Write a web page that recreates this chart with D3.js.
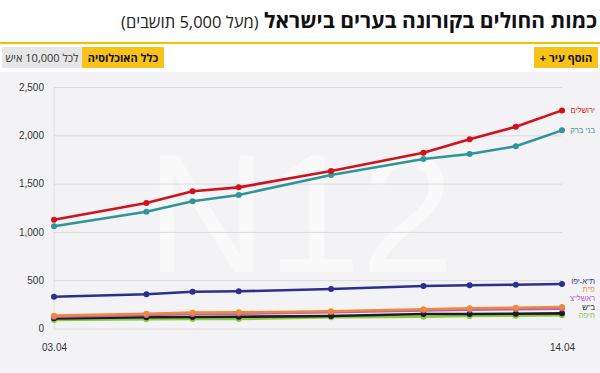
<!DOCTYPE html>
<html lang="he">
<head>
<meta charset="UTF-8">
<title>כמות החולים בקורונה בערים בישראל</title>
<script src="https://d3js.org/d3.v7.min.js"></script>
<style>
body {
  margin: 0;
  width: 600px;
  height: 373px;
  overflow: hidden;
  background: #fff;
  font-family: 'Open Sans', 'Liberation Sans', 'DejaVu Sans', sans-serif;
  position: relative;
}
#title {
  position: absolute;
  right: 3px;
  top: 6px;
  direction: rtl;
  white-space: nowrap;
  font-size: 21px;
  font-weight: bold;
  color: #111;
}
#title span {
  font-weight: normal;
  font-size: 16.5px;
  color: #222;
}
#rule {
  position: absolute;
  left: 0; top: 42px;
  width: 600px; height: 2px;
  background: #f2c200;
}
.btn {
  position: absolute;
  top: 47px;
  height: 21px;
  line-height: 21px;
  font-size: 11px;
  direction: rtl;
  text-align: center;
  white-space: nowrap;
}
#add { right: 2px; width: 64px; background: #f7c31a; font-weight: bold; color: #111; }
#all { left: 82px; width: 82px; background: #f7c31a; font-weight: bold; color: #111; }
#per { left: 2px; width: 80px; background: #e6e6e6; color: #333; }
svg { position: absolute; left: 0; top: 0; }
.tick text { font-size: 10px; fill: #333; }
.lbl { font-size: 7.6px; direction: rtl; font-family: 'Liberation Sans', 'DejaVu Sans', sans-serif; }
</style>
</head>
<body>
<div id="title">כמות החולים בקורונה בערים בישראל <span>(מעל 5,000 תושבים)</span></div>
<div id="rule"></div>
<svg width="600" height="373"></svg>
<div class="btn" id="add">הוסף עיר +</div>
<div class="btn" id="per">לכל 10,000 איש</div>
<div class="btn" id="all">כלל האוכלוסיה</div>
<script>
// dates of the points (April 2020)
var dates = ["03.04", "05.04", "06.04", "07.04", "09.04", "11.04", "12.04", "13.04", "14.04"];
var xLabels = ["03.04", "14.04"];
var yTicks = [0, 500, 1000, 1500, 2000, 2500];

var cities = ["ירושלים", "בני ברק", "ת\"א-יפו", "פ\"ת", "ראשל\"צ", "ב\"ש", "חיפה"];
var colors = ["#d3111c", "#2f9596", "#2b3090", "#f0883a", "#b35ec4", "#1d1d1d", "#8dc641"];

var jerusalem = [1126, 1299, 1420, 1461, 1630, 1820, 1958, 2089, 2258];
var bneiBrak  = [1058, 1209, 1317, 1382, 1589, 1754, 1806, 1886, 2051];
var telAviv   = [329, 354, 381, 385, 409, 440, 447, 453, 461];
var petahTikva = [133, 153, 164, 167, 178, 199, 209, 215, 222];
var rishon    = [122, 140, 150, 154, 170, 188, 195, 201, 206];
var beerSheva = [105, 116, 119, 122, 129, 150, 150, 153, 157];
var haifa     = [88, 95, 98, 98, 116, 122, 129, 133, 137];

var seriesValues = [jerusalem, bneiBrak, telAviv, petahTikva, rishon, beerSheva, haifa];

var parseDate = d3.timeParse("%d.%m.%Y");
var svg = d3.select("svg");

// gray chart panel
svg.append("rect")
  .attr("x", 0).attr("y", 72)
  .attr("width", 600).attr("height", 301)
  .attr("fill", "#f3f3f5");

var x = d3.scaleTime()
  .domain([parseDate("03.04.2020"), parseDate("14.04.2020")])
  .range([54, 562]);
var y = d3.scaleLinear()
  .domain([0, 2500])
  .range([328.5, 87]);

// watermark
svg.append("text")
  .attr("x", 300).attr("y", 272)
  .attr("text-anchor", "middle")
  .style("font-size", "168px")
  .style("font-family", "'Liberation Sans', sans-serif")
  .attr("fill", "#ffffff")
  .attr("opacity", 0.5)
  .text("N12");

// grid + y labels
var yAxis = svg.append("g")
  .attr("transform", "translate(54,0)")
  .call(d3.axisLeft(y).tickValues(yTicks).tickSize(-508).tickPadding(10).tickFormat(d3.format(",")));
yAxis.select(".domain").remove();
yAxis.selectAll(".tick line").attr("stroke", "#dcdcdf");

svg.append("line")
  .attr("x1", 54).attr("x2", 54)
  .attr("y1", y(2500)).attr("y2", y(0))
  .attr("stroke", "#e0e0e3");

// x labels
var xAxis = svg.append("g")
  .attr("transform", "translate(0," + (y(0) + 12) + ")")
  .call(d3.axisBottom(x)
    .tickValues(xLabels.map(function(d) { return parseDate(d + ".2020"); }))
    .tickSize(0)
    .tickFormat(d3.timeFormat("%d.%m")));
xAxis.select(".domain").remove();

var line = d3.line()
  .x(function(d) { return x(d.date); })
  .y(function(d) { return y(d.value); });

var series = cities.map(function(name, i) {
  return {
    name: name,
    color: colors[i],
    points: seriesValues[i].map(function(v, j) {
      return { date: parseDate(dates[j] + ".2020"), value: v };
    })
  };
});

// draw lower series first so the big ones sit on top
series.slice().reverse().forEach(function(s) {
  var g = svg.append("g");
  g.append("path")
    .datum(s.points)
    .attr("d", line)
    .attr("fill", "none")
    .attr("stroke", s.color)
    .attr("stroke-width", 2.6)
    .attr("stroke-linejoin", "round");
  g.selectAll("circle")
    .data(s.points)
    .enter()
    .append("circle")
    .attr("cx", function(d) { return x(d.date); })
    .attr("cy", function(d) { return y(d.value); })
    .attr("r", 3)
    .attr("fill", s.color);
});

// end labels, pushed apart from the bottom up
var gap = 8.6;
var labels = series.map(function(s) {
  var last = s.points[s.points.length - 1];
  return { name: s.name, color: s.color, ly: y(last.value) };
});
labels.sort(function(a, b) { return b.ly - a.ly; });
for (var i = 1; i < labels.length; i++) {
  if (labels[i - 1].ly - labels[i].ly < gap) labels[i].ly = labels[i - 1].ly - gap;
}

svg.selectAll(".lbl")
  .data(labels)
  .enter()
  .append("text")
  .attr("class", "lbl")
  .attr("x", 595)
  .attr("y", function(d) { return d.ly + 3; })
  .attr("text-anchor", "start")
  .attr("fill", function(d) { return d.color; })
  .text(function(d) { return d.name; });
</script>
</body>
</html>
